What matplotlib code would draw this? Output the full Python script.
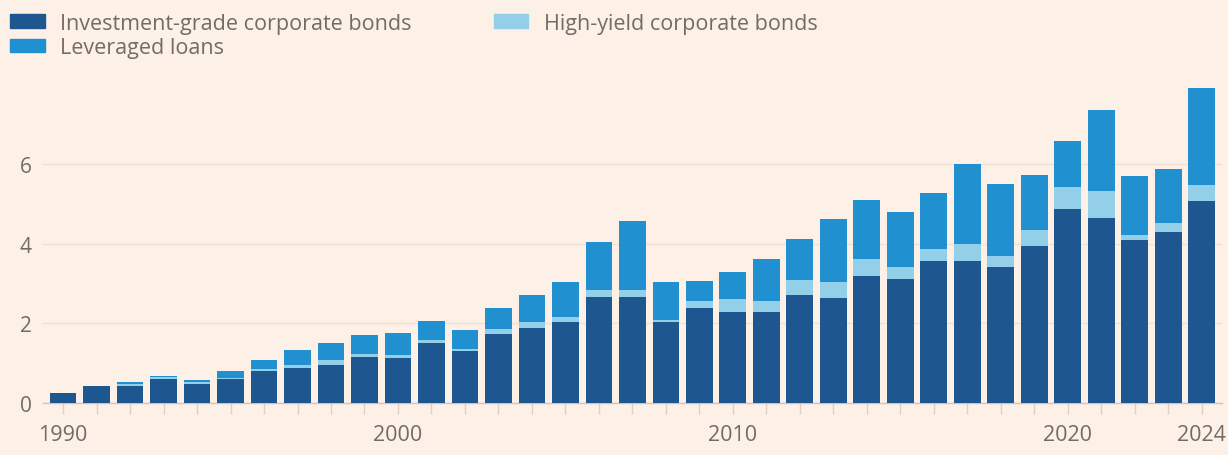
import matplotlib
matplotlib.use("Agg")
import matplotlib.pyplot as plt
import numpy as np
from matplotlib.patches import Patch

years = list(range(1990, 2025))
investment_grade = [0.25, 0.42, 0.42, 0.60, 0.48, 0.60, 0.80, 0.87, 0.95, 1.15,
                    1.14, 1.52, 1.31, 1.73, 1.88, 2.04, 2.66, 2.66, 2.03, 2.38,
                    2.28, 2.28, 2.72, 2.63, 3.18, 3.12, 3.58, 3.57, 3.43, 3.94,
                    4.87, 4.66, 4.10, 4.30, 5.08]
high_yield = [0.00, 0.00, 0.05, 0.05, 0.05, 0.04, 0.05, 0.08, 0.13, 0.09,
              0.07, 0.07, 0.06, 0.13, 0.16, 0.11, 0.18, 0.17, 0.05, 0.19,
              0.33, 0.29, 0.38, 0.42, 0.43, 0.31, 0.30, 0.42, 0.26, 0.41,
              0.57, 0.67, 0.13, 0.22, 0.41]
leveraged_loans = [0.00, 0.01, 0.05, 0.04, 0.06, 0.17, 0.24, 0.38, 0.43, 0.47,
                   0.54, 0.47, 0.46, 0.54, 0.68, 0.89, 1.21, 1.75, 0.95, 0.50,
                   0.68, 1.05, 1.02, 1.58, 1.50, 1.38, 1.40, 2.01, 1.82, 1.38,
                   1.15, 2.04, 1.48, 1.36, 2.42]
y_ticks = [0, 2, 4, 6]
x_tick_labels = [1990, 2000, 2010, 2020, 2024]
labels = ["Investment-grade corporate bonds", "High-yield corporate bonds", "Leveraged loans"]

BG = "#FDF0E6"
C_IG = "#1E5790"
C_HY = "#93CFE8"
C_LL = "#2190D0"
TXT = "#736B67"

plt.rcParams['font.family'] = ['Open Sans', 'DejaVu Sans']

fig = plt.figure(figsize=(12.28, 4.56), dpi=100, facecolor=BG)
ax = fig.add_axes([0.035, 0.114, 0.96, 0.698], facecolor=BG)

x = np.array(years)
ig = np.array(investment_grade)
hy = np.array(high_yield)
ll = np.array(leveraged_loans)
w = 0.8
ax.bar(x, ig, width=w, color=C_IG, zorder=3)
ax.bar(x, hy, width=w, bottom=ig, color=C_HY, zorder=3)
ax.bar(x, ll, width=w, bottom=ig + hy, color=C_LL, zorder=3)

ax.set_xlim(1989.4, 2024.6)
ax.set_ylim(0, 8)
ax.set_yticks(y_ticks)
ax.set_yticklabels([str(v) for v in y_ticks])
ax.grid(axis='y', color="#F3E0D2", linewidth=1, zorder=0)
ax.set_axisbelow(True)

for s in ['top', 'right', 'left']:
    ax.spines[s].set_visible(False)
ax.spines['bottom'].set_color("#CFC3BA")
ax.spines['bottom'].set_linewidth(1)

ax.set_xticks(years, minor=True)
ax.set_xticks(x_tick_labels)
ax.set_xticklabels([str(v) for v in x_tick_labels])
ax.tick_params(axis='x', which='both', length=8, color="#DDD0C6", width=1,
               labelsize=15.5, labelcolor=TXT, pad=7)
ax.tick_params(axis='y', length=0, labelsize=15, labelcolor=TXT, pad=8)

handles = [Patch(color=C_IG), Patch(color=C_LL), Patch(color=C_HY)]
hl = [labels[0], labels[2], labels[1]]
fig.legend(handles, hl, loc='upper left', bbox_to_anchor=(-0.004, 1.003), ncol=2,
           frameon=False, fontsize=15.5, labelcolor=TXT, handlelength=1.6,
           handleheight=0.6, handletextpad=0.7, columnspacing=3.85,
           labelspacing=0.15, borderaxespad=0.3)

fig.savefig("out.png", dpi=100, facecolor=BG)
